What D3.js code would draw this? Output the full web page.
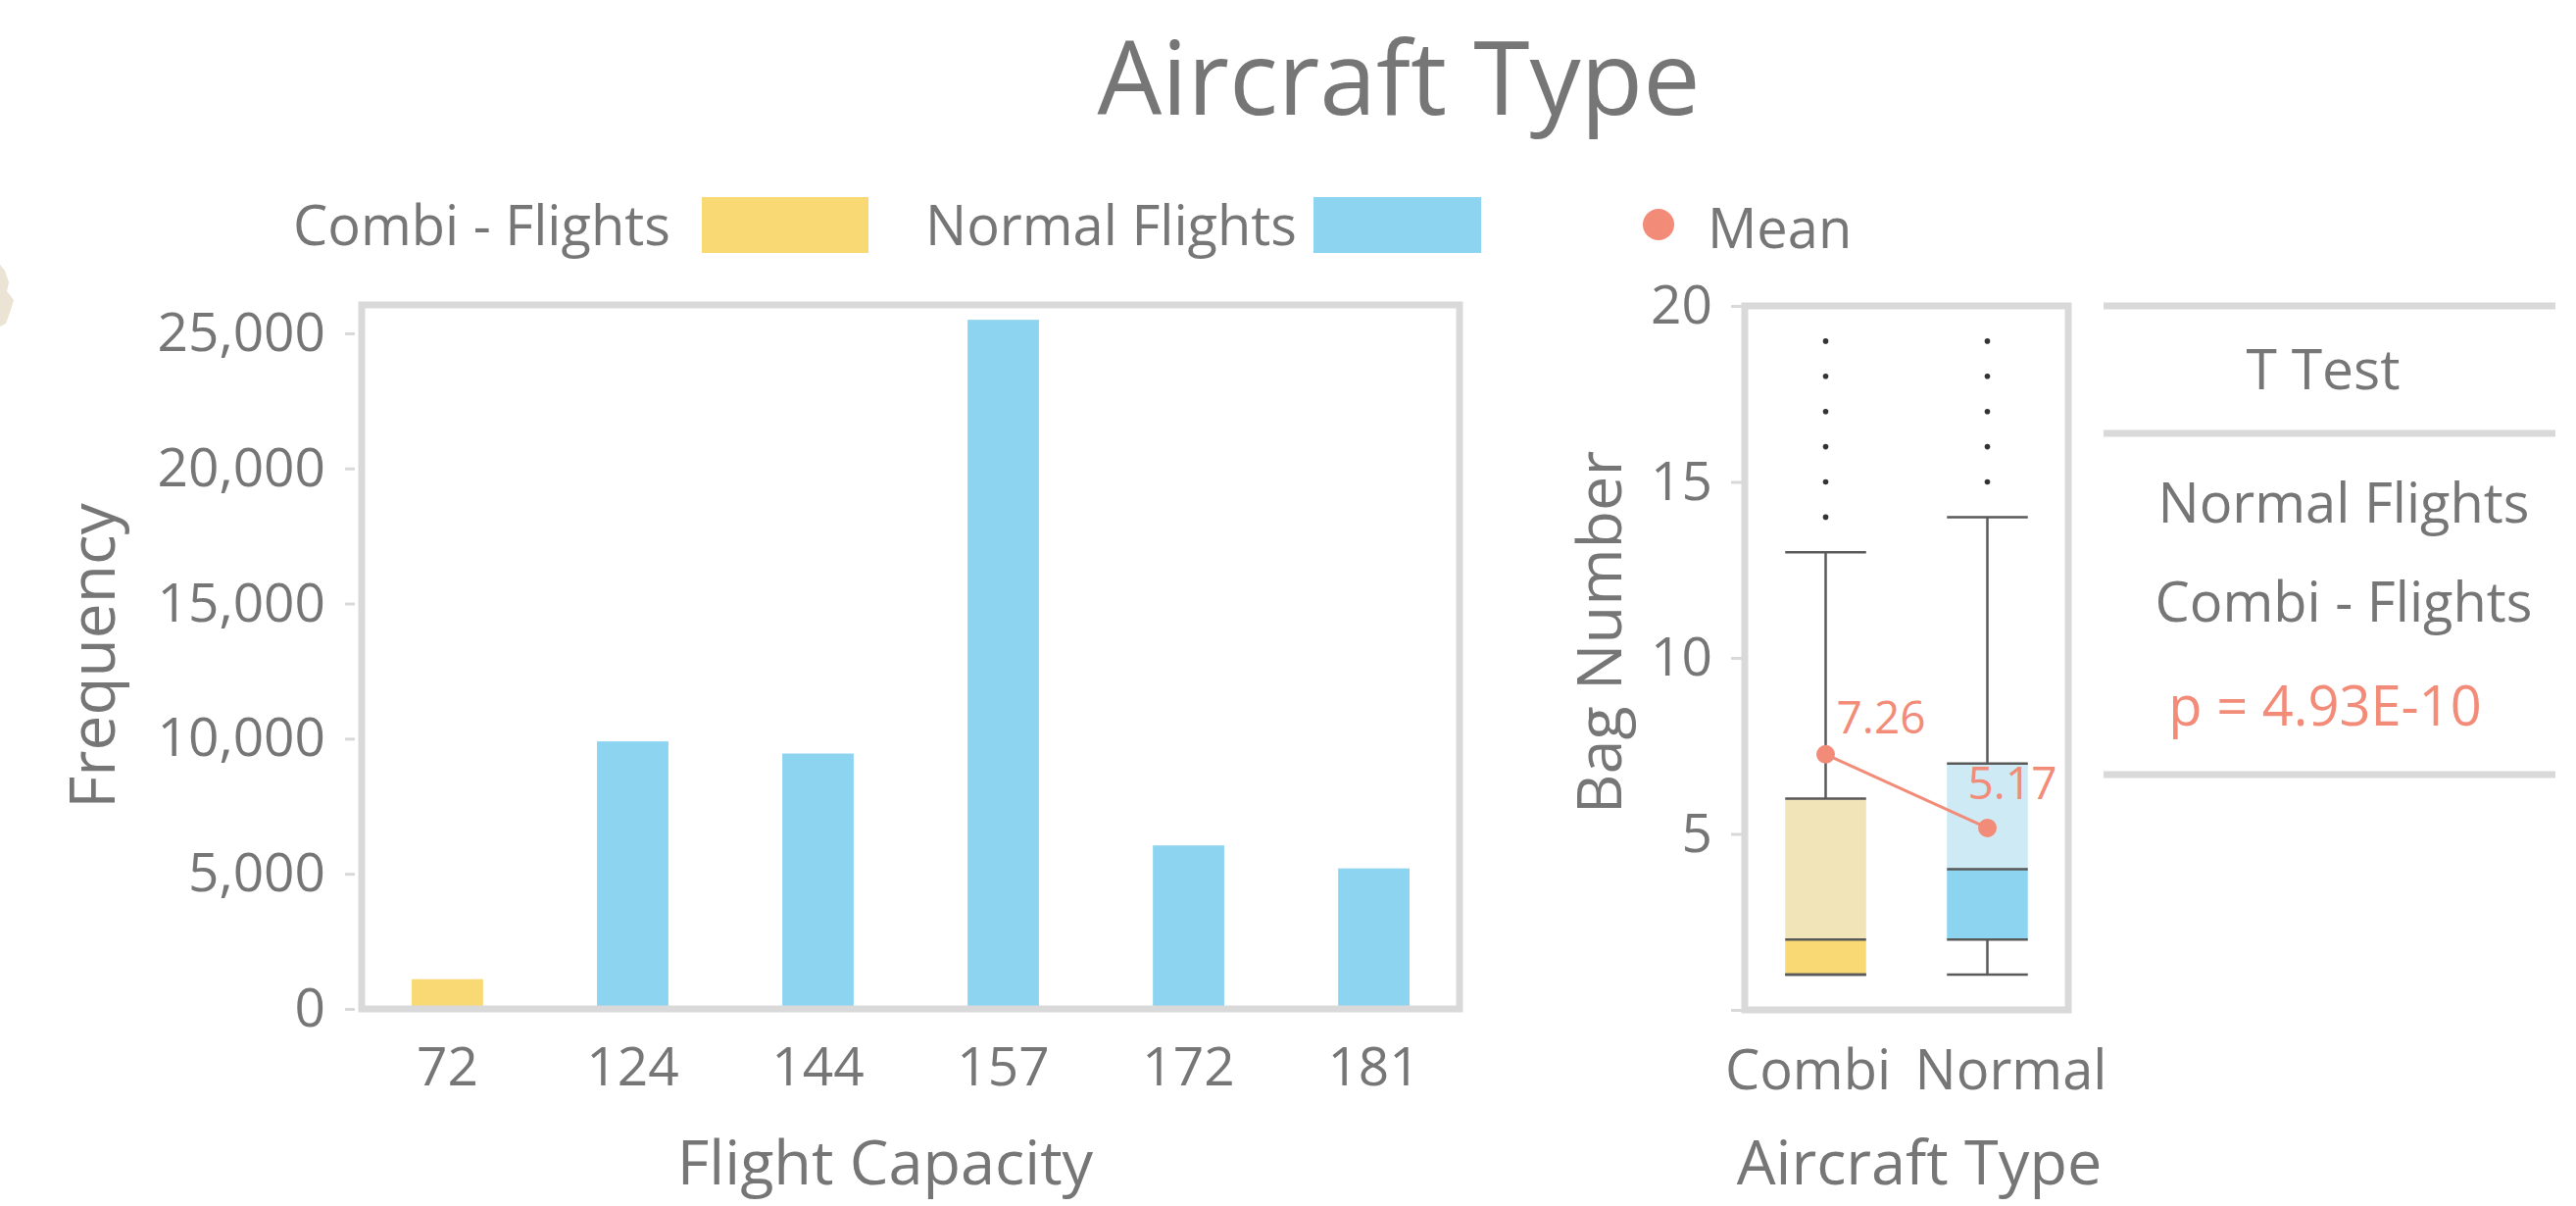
<!DOCTYPE html>
<html>
<head>
<meta charset="utf-8">
<script src="https://cdn.jsdelivr.net/npm/d3@7"></script>
<style>
    html, body { margin: 0; padding: 0; background: #fff; }
    svg text { font-family: "Open Sans", "Noto Sans", sans-serif; fill: #767676; }
</style>
</head>
<body>
<svg id="chart" width="2628" height="1230"></svg>
<script>
// --- data ---
const capacities = ['72', '124', '144', '157', '172', '181'];
const frequencies = [1100, 9900, 9450, 25500, 6050, 5200];
const flightTypes = ['Combi', 'Normal', 'Normal', 'Normal', 'Normal', 'Normal'];
const freqTicks = [0, 5000, 10000, 15000, 20000, 25000];

const boxCategories = ['Combi', 'Normal'];
const whiskerLow = [1, 1];
const q1 = [1, 2];
const medians = [2, 4];
const q3 = [6, 7];
const whiskerHigh = [13, 14];
const outliers = [[14, 15, 16, 17, 18, 19], [15, 16, 17, 18, 19]];
const means = [7.26, 5.17];
const bagTicks = [0, 5, 10, 15, 20];

const legendLabels = ['Combi - Flights', 'Normal Flights'];
const tTestRows = ['Normal Flights', 'Combi - Flights'];
const pValue = 'p = 4.93E-10';

// --- colours ---
const frameGrey = '#d9d9d9';
const yellow = '#f8d974';
const yellowLight = '#f1e4b8';
const blue = '#8cd4f0';
const blueLight = '#cdeaf5';
const salmon = '#f38b79';
const boxLine = '#595959';
const typeColor = { Combi: yellow, Normal: blue };

const svg = d3.select('#chart');

// small beige scrap at the left edge of the picture
svg.append('path')
    .attr('d', 'M0,270 L5,276 L9,288 L7,297 L14,306 L11,316 L6,330 L0,333 Z')
    .attr('fill', '#ebe3d3');

// --- title ---
svg.append('text')
    .attr('x', 1427).attr('y', 117)
    .attr('text-anchor', 'middle')
    .style('font-size', '104px')
    .text('Aircraft Type');

// --- legend ---
const legend = svg.append('g');
legend.append('text').attr('x', 299).attr('y', 250).style('font-size', '56px').text(legendLabels[0]);
legend.append('rect').attr('x', 716).attr('y', 201).attr('width', 170).attr('height', 57).attr('fill', yellow);
legend.append('text').attr('x', 944).attr('y', 250).style('font-size', '56px').text(legendLabels[1]);
legend.append('rect').attr('x', 1340).attr('y', 201).attr('width', 171).attr('height', 57).attr('fill', blue);
legend.append('circle').attr('cx', 1692).attr('cy', 229).attr('r', 16).attr('fill', salmon);
legend.append('text').attr('x', 1742).attr('y', 253).style('font-size', '56px').text('Mean');

// --- bar chart ---
const bar = { left: 369, right: 1489, top: 311, bottom: 1029 };
const x = d3.scaleBand()
    .domain(capacities)
    .range([bar.left, bar.right])
    .paddingInner(0.615)
    .paddingOuter(0.27);
const y = d3.scaleLinear()
    .domain([0, 26050])
    .range([bar.bottom, bar.top]);

svg.append('g')
    .selectAll('rect')
    .data(capacities)
    .join('rect')
    .attr('x', d => x(d))
    .attr('width', x.bandwidth())
    .attr('y', (d, i) => y(frequencies[i]))
    .attr('height', (d, i) => y(0) - y(frequencies[i]))
    .attr('fill', (d, i) => typeColor[flightTypes[i]]);

svg.append('rect')
    .attr('x', bar.left).attr('y', bar.top)
    .attr('width', bar.right - bar.left).attr('height', bar.bottom - bar.top)
    .attr('fill', 'none').attr('stroke', frameGrey).attr('stroke-width', 7);

const yAxis = svg.append('g')
    .attr('transform', `translate(${bar.left - 7},0)`)
    .call(d3.axisLeft(y).tickValues(freqTicks).tickFormat(d3.format(',')).tickSize(10).tickPadding(20));
yAxis.select('.domain').remove();
yAxis.selectAll('line').attr('stroke', frameGrey).attr('stroke-width', 3);
yAxis.selectAll('text').style('font-size', '55px').attr('fill', '#767676').attr('font-family', null);

const xAxis = svg.append('g')
    .attr('transform', `translate(0,${bar.bottom})`)
    .call(d3.axisBottom(x).tickSize(0).tickPadding(39));
xAxis.select('.domain').remove();
xAxis.selectAll('text').style('font-size', '55px').attr('fill', '#767676').attr('font-family', null);

svg.append('text')
    .attr('transform', 'translate(117,669) rotate(-90)')
    .attr('text-anchor', 'middle')
    .style('font-size', '64px')
    .text('Frequency');
svg.append('text')
    .attr('x', 903).attr('y', 1208)
    .attr('text-anchor', 'middle')
    .style('font-size', '63px')
    .text('Flight Capacity');

// --- box plot ---
const box = { left: 1780, right: 2110, top: 312, bottom: 1030 };
const xb = d3.scaleBand().domain(boxCategories).range([box.left, box.right]);
const yb = d3.scaleLinear().domain([0, 20]).range([box.bottom, box.top]);
const boxW = xb.bandwidth() * 0.5;
const cx = c => xb(c) + xb.bandwidth() / 2;
const lightFill = { Combi: yellowLight, Normal: blueLight };

svg.append('rect')
    .attr('x', box.left).attr('y', box.top)
    .attr('width', box.right - box.left).attr('height', box.bottom - box.top)
    .attr('fill', 'none').attr('stroke', frameGrey).attr('stroke-width', 7);

const boxes = svg.append('g')
    .selectAll('g')
    .data(boxCategories)
    .join('g');

// whiskers
boxes.append('line')
    .attr('x1', d => cx(d)).attr('x2', d => cx(d))
    .attr('y1', (d, i) => yb(whiskerHigh[i])).attr('y2', (d, i) => yb(q3[i]))
    .attr('stroke', boxLine).attr('stroke-width', 2.5);
boxes.append('line')
    .attr('x1', d => cx(d)).attr('x2', d => cx(d))
    .attr('y1', (d, i) => yb(q1[i])).attr('y2', (d, i) => yb(whiskerLow[i]))
    .attr('stroke', boxLine).attr('stroke-width', 2.5);

// box halves
boxes.append('rect')
    .attr('x', d => cx(d) - boxW / 2).attr('width', boxW)
    .attr('y', (d, i) => yb(q3[i])).attr('height', (d, i) => yb(medians[i]) - yb(q3[i]))
    .attr('fill', d => lightFill[d]);
boxes.append('rect')
    .attr('x', d => cx(d) - boxW / 2).attr('width', boxW)
    .attr('y', (d, i) => yb(medians[i])).attr('height', (d, i) => yb(q1[i]) - yb(medians[i]))
    .attr('fill', d => typeColor[d]);

// horizontal lines: caps, quartiles, median
[whiskerHigh, q3, medians, q1, whiskerLow].forEach(arr => {
    boxes.append('line')
        .attr('x1', d => cx(d) - boxW / 2).attr('x2', d => cx(d) + boxW / 2)
        .attr('y1', (d, i) => yb(arr[i])).attr('y2', (d, i) => yb(arr[i]))
        .attr('stroke', boxLine).attr('stroke-width', 2.5);
});

// outliers
boxes.each(function (d, i) {
    d3.select(this).selectAll('circle.out')
        .data(outliers[i])
        .join('circle')
        .attr('class', 'out')
        .attr('cx', cx(d)).attr('cy', v => yb(v))
        .attr('r', 2.8).attr('fill', '#333');
});

// means
svg.append('path')
    .datum(boxCategories)
    .attr('d', d3.line().x(d => cx(d)).y((d, i) => yb(means[i])))
    .attr('fill', 'none').attr('stroke', salmon).attr('stroke-width', 3);
svg.append('g').selectAll('circle')
    .data(boxCategories)
    .join('circle')
    .attr('cx', d => cx(d)).attr('cy', (d, i) => yb(means[i]))
    .attr('r', 9.5).attr('fill', salmon);
const meanOffsets = [[11, -21], [-20, -29]];
svg.append('g').selectAll('text')
    .data(boxCategories)
    .join('text')
    .attr('x', (d, i) => cx(d) + meanOffsets[i][0])
    .attr('y', (d, i) => yb(means[i]) + meanOffsets[i][1])
    .style('font-size', '46px')
    .style('fill', salmon)
    .text((d, i) => means[i].toFixed(2));

const ybAxis = svg.append('g')
    .attr('transform', `translate(${box.left - 3},0)`)
    .call(d3.axisLeft(yb).tickValues(bagTicks).tickFormat(d => d === 0 ? '' : d).tickSize(11).tickPadding(19));
ybAxis.select('.domain').remove();
ybAxis.selectAll('line').attr('stroke', frameGrey).attr('stroke-width', 3);
ybAxis.selectAll('text').style('font-size', '55px').attr('fill', '#767676').attr('font-family', null);

const labelShift = { Combi: -18, Normal: 24 };
const xbAxis = svg.append('g')
    .attr('transform', `translate(0,${box.bottom})`)
    .call(d3.axisBottom(xb).tickSize(0).tickPadding(41));
xbAxis.select('.domain').remove();
xbAxis.selectAll('text')
    .style('font-size', '56px').attr('fill', '#767676').attr('font-family', null)
    .attr('dx', d => labelShift[d]);

svg.append('text')
    .attr('transform', 'translate(1654,645) rotate(-90)')
    .attr('text-anchor', 'middle')
    .style('font-size', '63px')
    .text('Bag Number');
svg.append('text')
    .attr('x', 1958).attr('y', 1208)
    .attr('text-anchor', 'middle')
    .style('font-size', '63px')
    .text('Aircraft Type');

// --- T test table ---
const table = { left: 2146, right: 2607 };
const ruleYs = [312, 442, 790];
svg.append('g').selectAll('line')
    .data(ruleYs)
    .join('line')
    .attr('x1', table.left).attr('x2', table.right)
    .attr('y1', d => d).attr('y2', d => d)
    .attr('stroke', frameGrey).attr('stroke-width', 7);
svg.append('text')
    .attr('x', 2370).attr('y', 397)
    .attr('text-anchor', 'middle')
    .style('font-size', '57px')
    .text('T Test');
svg.append('g').selectAll('text')
    .data(tTestRows)
    .join('text')
    .attr('x', 2391)
    .attr('y', (d, i) => 533 + i * 101)
    .attr('text-anchor', 'middle')
    .style('font-size', '56px')
    .text(d => d);
svg.append('text')
    .attr('x', 2372).attr('y', 740)
    .attr('text-anchor', 'middle')
    .style('font-size', '56px')
    .style('fill', salmon)
    .text(pValue);
</script>
</body>
</html>
